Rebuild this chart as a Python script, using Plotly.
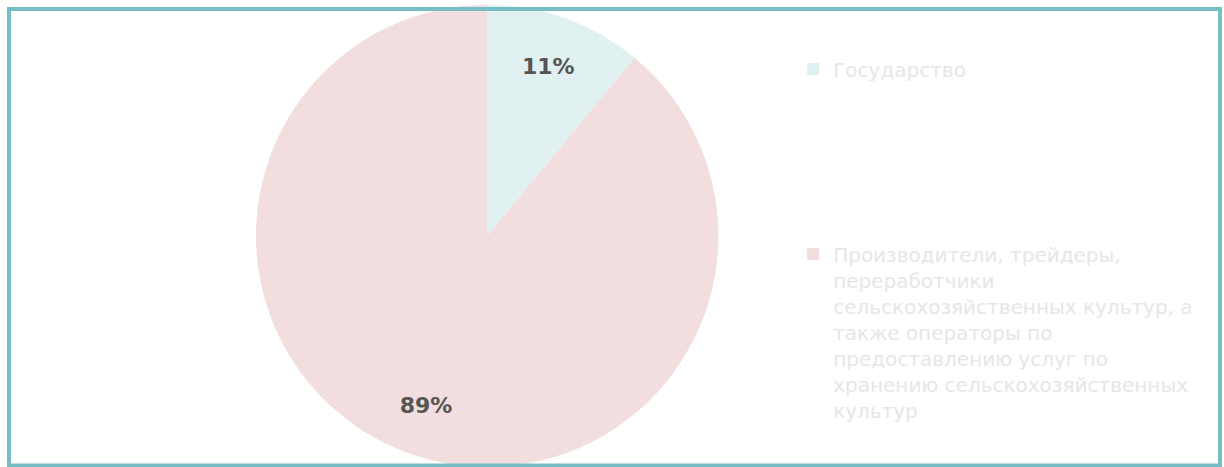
import plotly.graph_objects as go

categories = [
    "Государство",
    "Производители, трейдеры, переработчики сельскохозяйственных культур, а также операторы по предоставлению услуг по хранению сельскохозяйственных культур",
]
legend_lines = [
    ["Государство"],
    ["Производители, трейдеры,", "переработчики", "сельскохозяйственных культур, а",
     "также операторы по", "предоставлению услуг по", "хранению сельскохозяйственных", "культур"],
]
shares = [11, 89]
slice_colors = ["#e1f1f1", "#f2dede"]

# first legend entry padded with blank lines to reproduce the large vertical gap
display_labels = [
    "<br>".join(legend_lines[0] + ["\u00a0"] * 6),
    "<br>".join(legend_lines[1]),
]

pie_domain = dict(x=[0.209, 0.587], y=[0.0, 0.99])

fig = go.Figure()
# coloured slices + legend
fig.add_trace(
    go.Pie(
        labels=display_labels,
        values=shares,
        sort=False,
        direction="clockwise",
        rotation=0,
        marker=dict(colors=slice_colors, line=dict(width=0)),
        textinfo="none",
        domain=pie_domain,
        hoverinfo="label+percent",
    )
)
# transparent ring used only to place the percentage labels further out
fig.add_trace(
    go.Pie(
        labels=display_labels,
        values=shares,
        sort=False,
        direction="clockwise",
        rotation=0,
        hole=0.56,
        marker=dict(colors=["rgba(0,0,0,0)", "rgba(0,0,0,0)"], line=dict(width=0)),
        texttemplate="%{value}%",
        textposition="inside",
        insidetextorientation="horizontal",
        textfont=dict(family="DejaVu Sans", size=22, color="#555555", weight="bold"),
        domain=pie_domain,
        showlegend=False,
        hoverinfo="skip",
    )
)

fig.update_layout(
    width=1224,
    height=467,
    margin=dict(l=0, r=0, t=0, b=0),
    paper_bgcolor="white",
    plot_bgcolor="white",
    showlegend=True,
    legend=dict(
        x=0.648,
        y=0.894,
        xanchor="left",
        yanchor="top",
        valign="top",
        font=dict(family="DejaVu Sans", size=20, color="#e6e6e6"),
        bgcolor="rgba(0,0,0,0)",
    ),
    shapes=[
        dict(
            type="rect",
            xref="paper",
            yref="paper",
            x0=9 / 1224,
            x1=1220 / 1224,
            y0=1 - 465.5 / 467,
            y1=1 - 9 / 467,
            line=dict(color="#76bec4", width=4),
            fillcolor="rgba(0,0,0,0)",
            layer="above",
        )
    ],
)

fig.write_html(
    "out.html",
    config={"displayModeBar": False},
    post_script="document.body.style.margin='0';",
)
